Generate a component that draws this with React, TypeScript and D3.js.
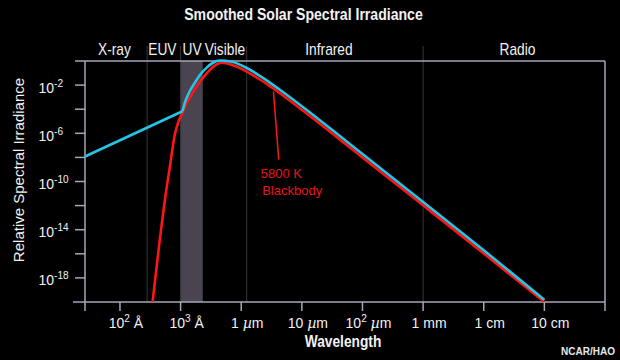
import React from 'react';
import * as d3 from 'd3';

// ---- data (wavelength in nm, relative spectral irradiance) ----
const solarWavelength = [2.65, 107.4, 117.2, 141.6, 171.4, 207.0, 266.7, 342.8, 441.6, 562.3, 729.5, 891, 1213, 1884, 2818, 4285, 10000, 53580, 1e5, 1e6, 1e7, 1e8];
const solarIrradiance = [1.07e-8, 6.2e-5, 3.1e-4, 2.8e-3, 1.4e-2, 0.06, 0.245, 0.65, 1.0, 0.93, 0.76, 0.52, 0.25, 0.068, 0.0178, 3.9e-3, 1.6e-4, 2.1e-7, 1.76e-8, 1.8e-12, 1.8e-16, 1.4e-20];

const bbWavelength = [34.5, 40.2, 46.7, 55.0, 66.4, 80.4, 91.2, 107.4, 125.9, 141.6, 171.4, 207.0, 266.7, 342.8, 398.1, 471.0, 562.3, 729.5, 891, 1213, 1884, 2818, 4285, 10000, 53580, 1e5, 1e6, 1e7, 1e8];
const bbIrradiance = [1e-20, 7.9e-18, 5.0e-15, 2.8e-12, 1.6e-9, 7.9e-7, 7.9e-6, 5.0e-5, 3.2e-4, 8.9e-4, 4.5e-3, 1.8e-2, 8.9e-2, 0.32, 0.54, 0.71, 0.66, 0.44, 0.30, 0.138, 0.037, 0.010, 2.2e-3, 8.9e-5, 1.2e-7, 1.0e-8, 1.05e-12, 1.07e-16, 1e-20];

const xTickValues = [10, 100, 1000, 1e4, 1e5, 1e6, 1e7, 1e8];
const xTickBases = ['10', '10', '1', '10', '10', '1', '1', '10'];
const xTickSups = ['2', '3', '', '', '2', '', '', ''];
const xTickUnits = ['Å', 'Å', 'µm', 'µm', 'µm', 'mm', 'cm', 'cm'];

const yTickExponents = [-2, -4, -6, -8, -10, -12, -14, -16, -18];
const yLabelExponents = [-2, -6, -10, -14, -18];

const regionNames = ['X-ray', 'EUV', 'UV', 'Visible', 'Infrared', 'Radio'];
const regionLabelWavelength = [8.1, 50, 155, 540, 28000, 3.6e7];
const regionBoundaries = [28, 100, 1230, 1e6];
const uvBand = [100, 232];

const xDomain = [2.65, 1e9];
const yDomain = [1e-20, 1];

const annotationLines = ['5800 K', 'Blackbody'];
const annotationFrom = { wavelength: 3400, value: 3.0e-3 };
const annotationTo = { wavelength: 4150, value: 6.5e-9 };

const SANS = "'Liberation Sans', Arial, sans-serif";

function NarrowText(props: { x: number; y: number; size: number; bold?: boolean; squeeze?: number; fill?: string; children: React.ReactNode }) {
  const s = props.squeeze ?? 0.87;
  return (
    <text
      transform={`translate(${props.x},${props.y}) scale(${s},1)`}
      textAnchor="middle"
      fill={props.fill ?? '#f2f2f2'}
      fontFamily={SANS}
      fontWeight={props.bold ? 'bold' : 'normal'}
      fontSize={props.size}
    >
      {props.children}
    </text>
  );
}

export default function App() {
  const W = 620, H = 360;
  const L = 85, R = 605, T = 61, B = 302;
  const x = d3.scaleLog().domain(xDomain).range([L, R]);
  const y = d3.scaleLog().domain(yDomain).range([B, T]);

  const solarPts: [number, number][] = solarWavelength.map((w, i) => [x(w), y(solarIrradiance[i])]);
  const bbPts: [number, number][] = bbWavelength.map((w, i) => [x(w), y(bbIrradiance[i])]);
  const straight = d3.line().curve(d3.curveLinear);
  const smooth = d3.line().curve(d3.curveMonotoneX);
  const solarPath = straight(solarPts.slice(0, 2)) + ' ' + smooth(solarPts.slice(1));
  const bbPath = smooth(bbPts);

  const frame = '#a4a7b8';
  const grid = '#38383c';
  const blue = '#25c5e8';
  const red = '#ff1515';

  const ax = x(annotationFrom.wavelength), ay = y(annotationFrom.value);
  const bx = x(annotationTo.wavelength), by = y(annotationTo.value);

  return (
    <svg width={W} height={H} style={{ position: 'absolute', left: 0, top: 0, display: 'block' }}>
      <defs>
        <clipPath id="plotClip">
          <rect x={L} y={T - 3} width={R - L} height={B - T + 3} />
        </clipPath>
      </defs>
      <rect x={0} y={0} width={W} height={H} fill="#000" />

      {/* title */}
      <NarrowText x={303.5} y={19.5} size={16} bold squeeze={0.88}>
        Smoothed Solar Spectral Irradiance
      </NarrowText>

      {/* UV band */}
      <rect x={x(uvBand[0])} y={T} width={x(uvBand[1]) - x(uvBand[0])} height={B - T} fill="#4a4350" />

      {/* region boundaries */}
      {regionBoundaries.map((w, i) => (
        <line key={i} x1={x(w)} x2={x(w)} y1={46} y2={B} stroke={grid} strokeWidth={1} />
      ))}

      {/* region labels */}
      {regionNames.map((n, i) => (
        <NarrowText key={n} x={x(regionLabelWavelength[i])} y={55} size={16} squeeze={0.86}>
          {n}
        </NarrowText>
      ))}

      {/* frame */}
      <line x1={75} x2={R} y1={T} y2={T} stroke={frame} strokeWidth={1.5} />
      <line x1={73} x2={R} y1={B} y2={B} stroke={frame} strokeWidth={1.5} />
      <line x1={L} x2={L} y1={T} y2={B + 9} stroke={frame} strokeWidth={1.5} />
      <line x1={R} x2={R} y1={T} y2={B + 9} stroke={frame} strokeWidth={1.5} />

      {/* y ticks */}
      {yTickExponents.map((e) => (
        <line key={e} x1={75} x2={L} y1={y(Math.pow(10, e))} y2={y(Math.pow(10, e))} stroke={frame} strokeWidth={1.5} />
      ))}
      {yLabelExponents.map((e) => (
        <text key={e} x={38.5} y={y(Math.pow(10, e)) + 7.5} fill="#f2f2f2" fontFamily={SANS} fontSize={14}>
          10<tspan fontSize={10} dy={-6}>{String(e)}</tspan>
        </text>
      ))}

      {/* x ticks */}
      {xTickValues.map((v) => (
        <line key={v} x1={x(v)} x2={x(v)} y1={B} y2={B + 9} stroke={frame} strokeWidth={1.5} />
      ))}
      {xTickValues.map((v, i) => {
        const unit = xTickUnits[i];
        const isMicro = unit.startsWith('µ');
        return (
          <text key={v} x={x(v) + 6} y={327.5} textAnchor="middle" fill="#f2f2f2" fontFamily={SANS} fontSize={14}>
            {xTickBases[i]}
            {xTickSups[i] ? <tspan fontSize={10} dy={-6}>{xTickSups[i]}</tspan> : null}
            <tspan dy={xTickSups[i] ? 6 : 0}> </tspan>
            {isMicro ? (
              <>
                <tspan fontStyle="italic" fontFamily="'DejaVu Serif', serif">µ</tspan>
                <tspan>{unit.slice(1)}</tspan>
              </>
            ) : (
              <tspan>{unit}</tspan>
            )}
          </text>
        );
      })}

      {/* curves */}
      <g clipPath="url(#plotClip)">
        <path d={bbPath || ''} fill="none" stroke={red} strokeWidth={2.6} strokeLinejoin="round" />
        <path d={solarPath} fill="none" stroke={blue} strokeWidth={2.6} strokeLinejoin="round" transform="translate(0,-0.5)" />
      </g>

      {/* annotation */}
      <line x1={ax} y1={ay} x2={bx} y2={by} stroke={red} strokeWidth={1.5} />
      {annotationLines.map((t, i) => (
        <text key={t} x={bx - 18 + i * 1.5} y={by + 18 + i * 17} fill="#e8141c" fontFamily={SANS} fontSize={13}>
          {t}
        </text>
      ))}

      {/* axis titles */}
      <NarrowText x={343} y={347} size={16} bold squeeze={0.86}>
        Wavelength
      </NarrowText>
      <text transform="translate(24,170) rotate(-90)" textAnchor="middle" fill="#f2f2f2" fontFamily={SANS} fontSize={15}>
        Relative Spectral Irradiance
      </text>
      <text x={615} y={355} textAnchor="end" fill="#e8e8e8" fontFamily={SANS} fontWeight="bold" fontSize={10}>
        NCAR/HAO
      </text>
    </svg>
  );
}
